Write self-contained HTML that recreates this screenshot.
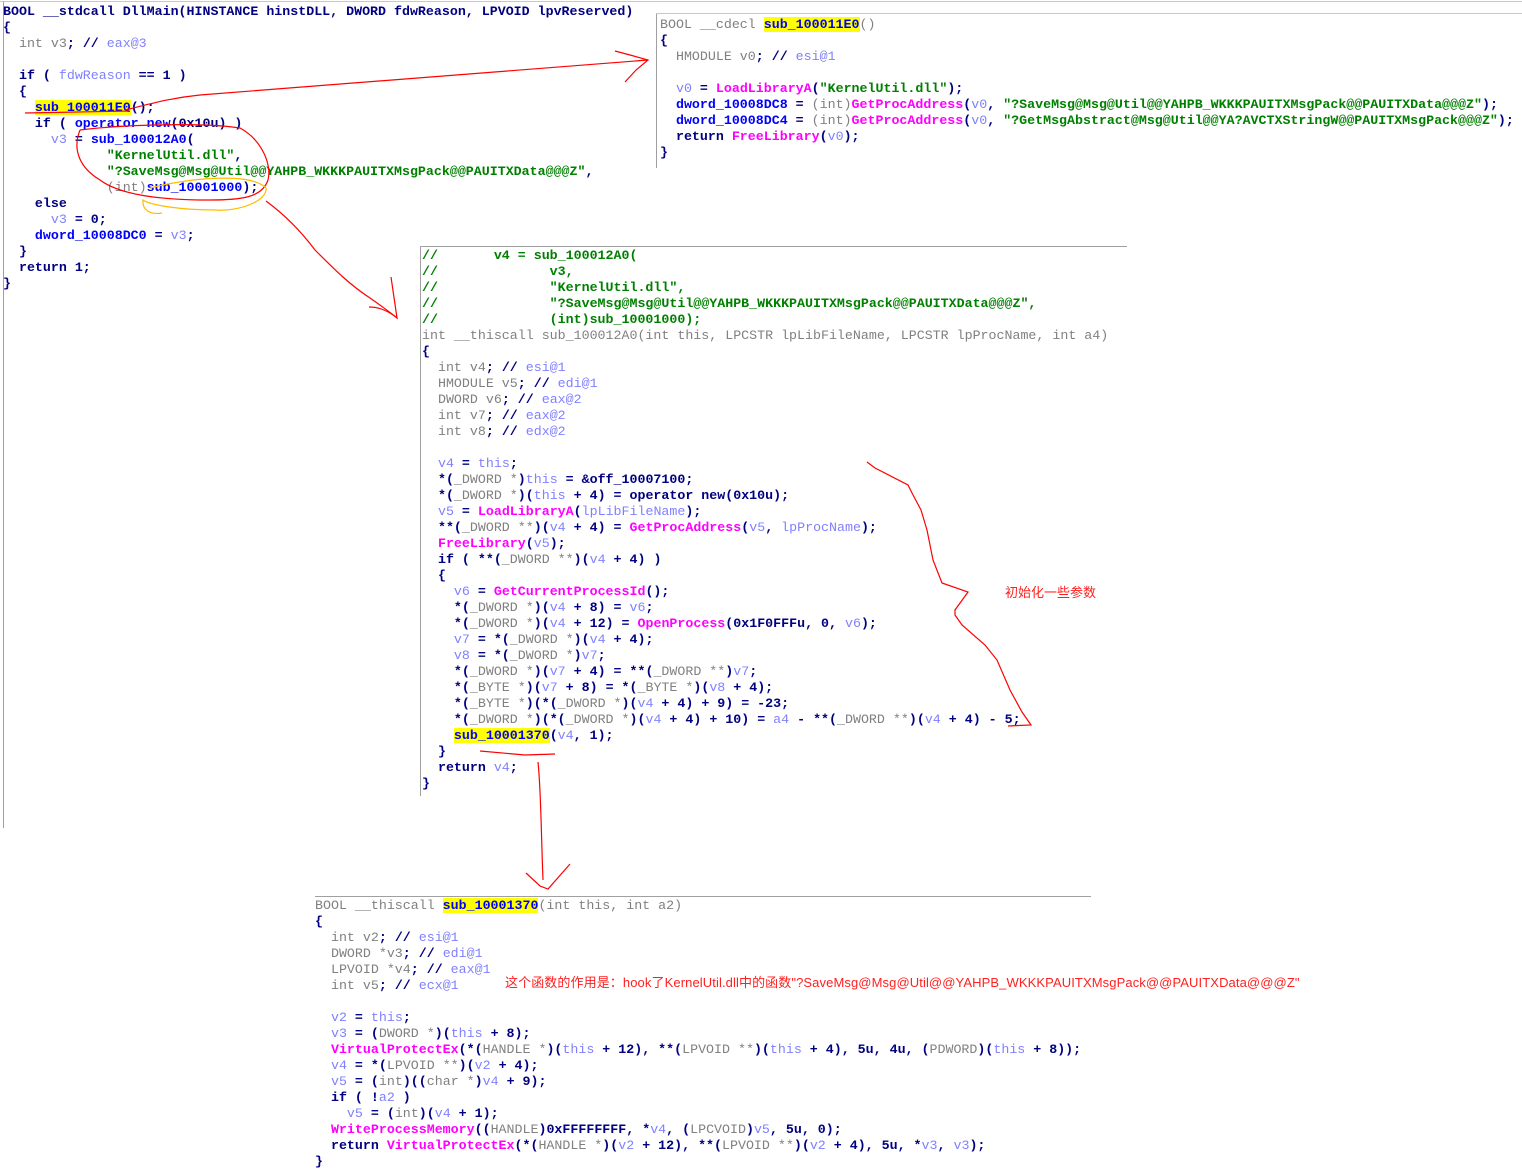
<!DOCTYPE html>
<html><head><meta charset="utf-8"><style>
html,body{margin:0;padding:0;background:#fff;width:1522px;height:1173px;overflow:hidden;position:relative}
.l{position:absolute;height:16px;line-height:16px;margin-top:2px;white-space:pre;font-family:"Liberation Mono",monospace;font-size:13.3px;color:#000080;font-weight:bold}
.g{color:#808080;font-weight:normal}.v{color:#8080ff;font-weight:normal}.f{color:#ff00ff}.s{color:#008000}.b{color:#0000ff}.h{background:#ffff00}
.ln{position:absolute;background:#a0a0a0}
.cn{position:absolute;color:#ff2020;font-family:"Liberation Sans","Noto Sans CJK SC",sans-serif;font-size:13px;white-space:pre;line-height:16px}
</style></head><body>
<div class="ln" style="left:0;top:1px;width:1522px;height:1px;background:#c8c8c8"></div>
<div class="ln" style="left:3px;top:2px;width:1px;height:826px"></div>
<div class="ln" style="left:656px;top:14px;width:1px;height:154px"></div>
<div class="ln" style="left:656px;top:13px;width:866px;height:1px;background:#c8c8c8"></div>
<div class="ln" style="left:420px;top:246px;width:1px;height:550px"></div>
<div class="ln" style="left:420px;top:246px;width:707px;height:1px"></div>
<div class="ln" style="left:315px;top:896px;width:776px;height:1px"></div>

<!-- panel 1 -->
<div class="l" style="left:3px;top:2px">BOOL __stdcall DllMain(HINSTANCE hinstDLL, DWORD fdwReason, LPVOID lpvReserved)</div>
<div class="l" style="left:3px;top:18px">{</div>
<div class="l" style="left:3px;top:34px">  <span class="g">int v3</span>; // <span class="v">eax@3</span></div>
<div class="l" style="left:3px;top:66px">  if ( <span class="v">fdwReason</span> == 1 )</div>
<div class="l" style="left:3px;top:82px">  {</div>
<div class="l" style="left:3px;top:98px">    <span class="b h">sub_100011E0</span>();</div>
<div class="l" style="left:3px;top:114px">    if ( <span class="b">operator new</span>(0x10u) )</div>
<div class="l" style="left:3px;top:130px">      <span class="v">v3</span> = <span class="b">sub_100012A0</span>(</div>
<div class="l" style="left:3px;top:146px">             <span class="s">"KernelUtil.dll"</span>,</div>
<div class="l" style="left:3px;top:162px">             <span class="s">"?SaveMsg@Msg@Util@@YAHPB_WKKKPAUITXMsgPack@@PAUITXData@@@Z"</span>,</div>
<div class="l" style="left:3px;top:178px">             <span class="g">(int)</span><span class="b">sub_10001000</span>);</div>
<div class="l" style="left:3px;top:194px">    else</div>
<div class="l" style="left:3px;top:210px">      <span class="v">v3</span> = 0;</div>
<div class="l" style="left:3px;top:226px">    <span class="b">dword_10008DC0</span> = <span class="v">v3</span>;</div>
<div class="l" style="left:3px;top:242px">  }</div>
<div class="l" style="left:3px;top:258px">  return 1;</div>
<div class="l" style="left:3px;top:274px">}</div>

<!-- panel 2 -->
<div class="l" style="left:660px;top:15px"><span class="g">BOOL __cdecl </span><span class="b h">sub_100011E0</span><span class="g">()</span></div>
<div class="l" style="left:660px;top:31px">{</div>
<div class="l" style="left:660px;top:47px">  <span class="g">HMODULE v0</span>; // <span class="v">esi@1</span></div>
<div class="l" style="left:660px;top:79px">  <span class="v">v0</span> = <span class="f">LoadLibraryA</span>(<span class="s">"KernelUtil.dll"</span>);</div>
<div class="l" style="left:660px;top:95px">  <span class="b">dword_10008DC8</span> = <span class="g">(int)</span><span class="f">GetProcAddress</span>(<span class="v">v0</span>, <span class="s">"?SaveMsg@Msg@Util@@YAHPB_WKKKPAUITXMsgPack@@PAUITXData@@@Z"</span>);</div>
<div class="l" style="left:660px;top:111px">  <span class="b">dword_10008DC4</span> = <span class="g">(int)</span><span class="f">GetProcAddress</span>(<span class="v">v0</span>, <span class="s">"?GetMsgAbstract@Msg@Util@@YA?AVCTXStringW@@PAUITXMsgPack@@@Z"</span>);</div>
<div class="l" style="left:660px;top:127px">  return <span class="f">FreeLibrary</span>(<span class="v">v0</span>);</div>
<div class="l" style="left:660px;top:143px">}</div>

<!-- panel 3 -->
<div class="l s" style="left:422px;top:246px">//       v4 = sub_100012A0(</div>
<div class="l s" style="left:422px;top:262px">//              v3,</div>
<div class="l s" style="left:422px;top:278px">//              "KernelUtil.dll",</div>
<div class="l s" style="left:422px;top:294px">//              "?SaveMsg@Msg@Util@@YAHPB_WKKKPAUITXMsgPack@@PAUITXData@@@Z",</div>
<div class="l s" style="left:422px;top:310px">//              (int)sub_10001000);</div>
<div class="l g" style="left:422px;top:326px">int __thiscall sub_100012A0(int this, LPCSTR lpLibFileName, LPCSTR lpProcName, int a4)</div>
<div class="l" style="left:422px;top:342px">{</div>
<div class="l" style="left:422px;top:358px">  <span class="g">int v4</span>; // <span class="v">esi@1</span></div>
<div class="l" style="left:422px;top:374px">  <span class="g">HMODULE v5</span>; // <span class="v">edi@1</span></div>
<div class="l" style="left:422px;top:390px">  <span class="g">DWORD v6</span>; // <span class="v">eax@2</span></div>
<div class="l" style="left:422px;top:406px">  <span class="g">int v7</span>; // <span class="v">eax@2</span></div>
<div class="l" style="left:422px;top:422px">  <span class="g">int v8</span>; // <span class="v">edx@2</span></div>
<div class="l" style="left:422px;top:454px">  <span class="v">v4</span> = <span class="v">this</span>;</div>
<div class="l" style="left:422px;top:470px">  *(<span class="g">_DWORD *</span>)<span class="v">this</span> = &amp;off_10007100;</div>
<div class="l" style="left:422px;top:486px">  *(<span class="g">_DWORD *</span>)(<span class="v">this</span> + 4) = operator new(0x10u);</div>
<div class="l" style="left:422px;top:502px">  <span class="v">v5</span> = <span class="f">LoadLibraryA</span>(<span class="v">lpLibFileName</span>);</div>
<div class="l" style="left:422px;top:518px">  **(<span class="g">_DWORD **</span>)(<span class="v">v4</span> + 4) = <span class="f">GetProcAddress</span>(<span class="v">v5</span>, <span class="v">lpProcName</span>);</div>
<div class="l" style="left:422px;top:534px">  <span class="f">FreeLibrary</span>(<span class="v">v5</span>);</div>
<div class="l" style="left:422px;top:550px">  if ( **(<span class="g">_DWORD **</span>)(<span class="v">v4</span> + 4) )</div>
<div class="l" style="left:422px;top:566px">  {</div>
<div class="l" style="left:422px;top:582px">    <span class="v">v6</span> = <span class="f">GetCurrentProcessId</span>();</div>
<div class="l" style="left:422px;top:598px">    *(<span class="g">_DWORD *</span>)(<span class="v">v4</span> + 8) = <span class="v">v6</span>;</div>
<div class="l" style="left:422px;top:614px">    *(<span class="g">_DWORD *</span>)(<span class="v">v4</span> + 12) = <span class="f">OpenProcess</span>(0x1F0FFFu, 0, <span class="v">v6</span>);</div>
<div class="l" style="left:422px;top:630px">    <span class="v">v7</span> = *(<span class="g">_DWORD *</span>)(<span class="v">v4</span> + 4);</div>
<div class="l" style="left:422px;top:646px">    <span class="v">v8</span> = *(<span class="g">_DWORD *</span>)<span class="v">v7</span>;</div>
<div class="l" style="left:422px;top:662px">    *(<span class="g">_DWORD *</span>)(<span class="v">v7</span> + 4) = **(<span class="g">_DWORD **</span>)<span class="v">v7</span>;</div>
<div class="l" style="left:422px;top:678px">    *(<span class="g">_BYTE *</span>)(<span class="v">v7</span> + 8) = *(<span class="g">_BYTE *</span>)(<span class="v">v8</span> + 4);</div>
<div class="l" style="left:422px;top:694px">    *(<span class="g">_BYTE *</span>)(*(<span class="g">_DWORD *</span>)(<span class="v">v4</span> + 4) + 9) = -23;</div>
<div class="l" style="left:422px;top:710px">    *(<span class="g">_DWORD *</span>)(*(<span class="g">_DWORD *</span>)(<span class="v">v4</span> + 4) + 10) = <span class="v">a4</span> - **(<span class="g">_DWORD **</span>)(<span class="v">v4</span> + 4) - 5;</div>
<div class="l" style="left:422px;top:726px">    <span class="b h">sub_10001370</span>(<span class="v">v4</span>, 1);</div>
<div class="l" style="left:422px;top:742px">  }</div>
<div class="l" style="left:422px;top:758px">  return <span class="v">v4</span>;</div>
<div class="l" style="left:422px;top:774px">}</div>

<!-- panel 4 -->
<div class="l" style="left:315px;top:896px"><span class="g">BOOL __thiscall </span><span class="b h">sub_10001370</span><span class="g">(int this, int a2)</span></div>
<div class="l" style="left:315px;top:912px">{</div>
<div class="l" style="left:315px;top:928px">  <span class="g">int v2</span>; // <span class="v">esi@1</span></div>
<div class="l" style="left:315px;top:944px">  <span class="g">DWORD *v3</span>; // <span class="v">edi@1</span></div>
<div class="l" style="left:315px;top:960px">  <span class="g">LPVOID *v4</span>; // <span class="v">eax@1</span></div>
<div class="l" style="left:315px;top:976px">  <span class="g">int v5</span>; // <span class="v">ecx@1</span></div>
<div class="l" style="left:315px;top:1008px">  <span class="v">v2</span> = <span class="v">this</span>;</div>
<div class="l" style="left:315px;top:1024px">  <span class="v">v3</span> = (<span class="g">DWORD *</span>)(<span class="v">this</span> + 8);</div>
<div class="l" style="left:315px;top:1040px">  <span class="f">VirtualProtectEx</span>(*(<span class="g">HANDLE *</span>)(<span class="v">this</span> + 12), **(<span class="g">LPVOID **</span>)(<span class="v">this</span> + 4), 5u, 4u, (<span class="g">PDWORD</span>)(<span class="v">this</span> + 8));</div>
<div class="l" style="left:315px;top:1056px">  <span class="v">v4</span> = *(<span class="g">LPVOID **</span>)(<span class="v">v2</span> + 4);</div>
<div class="l" style="left:315px;top:1072px">  <span class="v">v5</span> = (<span class="g">int</span>)((<span class="g">char *</span>)<span class="v">v4</span> + 9);</div>
<div class="l" style="left:315px;top:1088px">  if ( !<span class="v">a2</span> )</div>
<div class="l" style="left:315px;top:1104px">    <span class="v">v5</span> = (<span class="g">int</span>)(<span class="v">v4</span> + 1);</div>
<div class="l" style="left:315px;top:1120px">  <span class="f">WriteProcessMemory</span>((<span class="g">HANDLE</span>)0xFFFFFFFF, *<span class="v">v4</span>, (<span class="g">LPCVOID</span>)<span class="v">v5</span>, 5u, 0);</div>
<div class="l" style="left:315px;top:1136px">  return <span class="f">VirtualProtectEx</span>(*(<span class="g">HANDLE *</span>)(<span class="v">v2</span> + 12), **(<span class="g">LPVOID **</span>)(<span class="v">v2</span> + 4), 5u, *<span class="v">v3</span>, <span class="v">v3</span>);</div>
<div class="l" style="left:315px;top:1152px">}</div>

<div class="cn" style="left:1005px;top:585px">初始化一些参数</div>
<div class="cn" style="left:505px;top:975px;letter-spacing:0.1px">这个函数的作用是：hook了KernelUtil.dll中的函数"?SaveMsg@Msg@Util@@YAHPB_WKKKPAUITXMsgPack@@PAUITXData@@@Z"</div>

<svg width="1522" height="1173" style="position:absolute;left:0;top:0" fill="none" stroke-width="1.2">
<g stroke="#ff0000">
<path d="M25,113 L130,111"/>
<path d="M125,110 C150,104 170,98 200,95 C300,86 450,76 648,60"/>
<path d="M615,51 L630,55 L648,60 L636,70 L625,82"/>
<path d="M80,130 C120,125 200,122 240,128 C262,140 272,165 268,180 C262,198 240,200 210,200 C160,200 120,195 100,180 C80,168 72,150 80,130"/>
<path d="M266,201 C285,215 300,230 315,250 C335,270 350,285 370,298 C380,305 390,312 397,318"/>
<path d="M369,307 C380,307 390,312 397,318 C395,305 393,290 391,277"/>
<path d="M867,462 L875,468 L908,485 L912,493 L921,510 L927,530 L933,560 L942,583 L968,592 L955,610 L955,615 L962,625 L985,645 L997,660 L1010,690 L1022,712 L1031,725 L1008,726"/>
<path d="M480,751 L525,755 L555,754"/>
<path d="M538,762 C541,790 541,830 543,880"/>
<path d="M526,873 L540,886 L548,889 L570,864"/>
</g>
<path stroke="#ffbb00" d="M150,188 C190,178 250,172 266,188 C268,200 240,212 215,210 C180,210 150,205 143,200 C142,210 150,215 162,213"/>
</svg>
</body></html>
